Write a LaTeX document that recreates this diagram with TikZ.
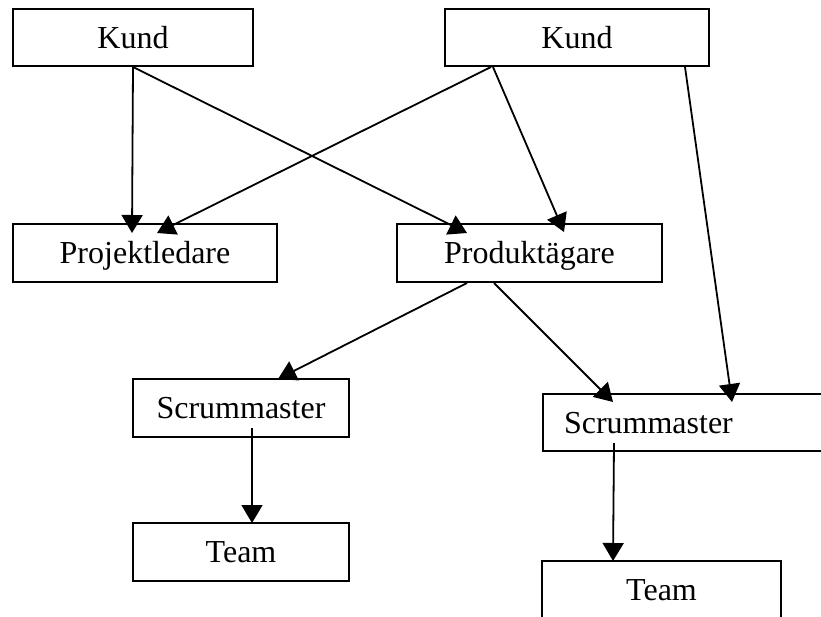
\documentclass[tikz,border=0pt]{standalone}
\usepackage{fontspec}
\setmainfont{Liberation Serif}
\usetikzlibrary{arrows.meta,positioning}

\begin{document}
\begin{tikzpicture}[x=1pt,y=-1pt,>={Triangle[length=18pt,width=21pt]}]
        \tikzstyle{box}=[rectangle,draw=black,line width=2pt,inner sep=0pt,font=\fontsize{32}{38}\selectfont,text height=29pt,text depth=7.8pt]
        \tikzstyle{link}=[->,line width=1.8pt]

        \clip (0,0) rectangle (821,616);

        \node [box,minimum width=240pt,minimum height=57pt] (kundL) at (133,37.5) {Kund}; %Kund 1
        \node [box,minimum width=264pt,minimum height=57pt] (kundR) at (577,37.5) {Kund}; %Kund 2
        \node [box,minimum width=264pt,minimum height=58pt] (projekt) at (145,253) {Projektledare};
        \node [box,minimum width=265pt,minimum height=58pt] (produkt) at (529.5,253) {Produktägare};
        \node [box,minimum width=216pt,minimum height=58pt] (scrumL) at (241,408) {Scrummaster};
        \node [box,minimum width=216pt,minimum height=58pt] (teamL) at (241,552) {Team};
        \node [box,anchor=north west,minimum height=57pt,text width=266pt,inner xsep=21pt,align=left] (scrumR) at (542,393) {Scrummaster}; %runs off the page
        \node [box,minimum width=239pt,minimum height=58pt] (teamR) at (661.5,590) {Team};

        % Kund -> Projektledare / Produktägare
        \draw [link] (kundL.south) -- ([xshift=120pt,yshift=-10pt]projekt.north west);
        \draw [link] (kundL.south) -- ([xshift=71pt,yshift=-10pt]produkt.north west);
        \draw [link] ([xshift=47pt]kundR.south west) -- ([xshift=145pt,yshift=-10pt]projekt.north west);
        \draw [link] ([xshift=49pt]kundR.south west) -- ([xshift=168pt,yshift=-9pt]produkt.north west);
        \draw [link] ([xshift=241pt]kundR.south west) -- ([xshift=190pt,yshift=-9pt]scrumR.north west);

        % Produktägare -> Scrummaster
        \draw [link] ([xshift=71pt]produkt.south west) -- ([xshift=146pt,yshift=-1pt]scrumL.north west);
        \draw [link] ([xshift=98pt]produkt.south west) -- ([xshift=71pt,yshift=-9pt]scrumR.north west);

        % Scrummaster -> Team
        \draw [link] ([xshift=120pt,yshift=10pt]scrumL.south west) -- ([xshift=120pt,yshift=-1pt]teamL.north west);
        \draw [link] ([xshift=72pt,yshift=9pt]scrumR.south west) -- ([xshift=72pt,yshift=-1pt]teamR.north west);
\end{tikzpicture}
\end{document}
